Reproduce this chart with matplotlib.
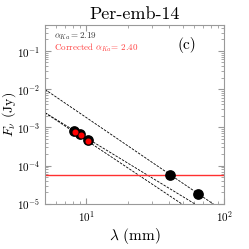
import matplotlib
matplotlib.use("Agg")
import matplotlib.pyplot as plt
import numpy as np

# observed fluxes
wave_mm = [8.1, 9.0, 10.2, 40.6, 64.4]
flux_jy = [8.3e-4, 6.6e-4, 4.8e-4, 5.7e-5, 1.8e-5]
# corrected Ka-band fluxes (red)
wave_corr = [8.2, 9.1, 10.3]
flux_corr = [7.8e-4, 6.2e-4, 4.5e-4]
# power-law fits: F = F10 * (lam/10)^-alpha
fit_alpha = [2.45, 2.19, 2.40]
fit_f10 = [1.8e-3, 5.3e-4, 4.6e-4]
noise_level = 5.8e-5

alpha_ka = 2.19
alpha_ka_corr = 2.40

plt.rcParams["mathtext.fontset"] = "cm"
plt.rcParams["font.family"] = "serif"
plt.rcParams["font.serif"] = ["cmr10", "DejaVu Serif"]
plt.rcParams["axes.formatter.use_mathtext"] = True

fig = plt.figure(figsize=(2.49, 2.49), dpi=100)
ax = fig.add_axes([0.181, 0.181, 0.719, 0.719])

lam = np.logspace(np.log10(5), 2, 200)
for a, f10 in zip(fit_alpha, fit_f10):
    ax.plot(lam, f10 * (lam / 10.0) ** (-a), ls=(0, (3, 1.5)), color="k", lw=0.6)

ax.plot([5, 100], [noise_level, noise_level], color="#ff3030", lw=1.0, zorder=2.5)
ax.scatter(wave_mm, flux_jy, s=45, color="k", zorder=3)
ax.scatter(wave_corr, flux_corr, s=11, color="red", zorder=4)

ax.set_xscale("log")
ax.set_yscale("log")
ax.set_xlim(5, 100)
ax.set_ylim(1e-5, 0.48)

ax.set_xlabel(r"$\lambda$ (mm)", fontsize=11, labelpad=2)
ax.set_ylabel(r"$F_\nu$ (Jy)", fontsize=10)
ax.yaxis.set_label_coords(-0.15, 0.5)
ax.set_title("Per-emb-14", fontsize=13, pad=4)

for side in ax.spines.values():
    side.set_color("#999999")
ax.tick_params(which="both", direction="in", top=True, right=True,
               color="#999999", labelsize=8)
ax.tick_params(which="major", length=4)
ax.tick_params(which="minor", length=2)

ax.text(0.05, 0.935, r"$\alpha_{Ka}=$" + f"{alpha_ka:.2f}", transform=ax.transAxes,
        fontsize=6.5, color="#333333", va="center")
ax.text(0.05, 0.875, r"Corrected $\alpha_{Ka}$= " + f"{alpha_ka_corr:.2f}",
        transform=ax.transAxes, fontsize=6.5, color="#ff4040", va="center")
ax.text(0.74, 0.89, "(c)", transform=ax.transAxes, fontsize=11, va="center")

fig.savefig("out.png", dpi=100)
